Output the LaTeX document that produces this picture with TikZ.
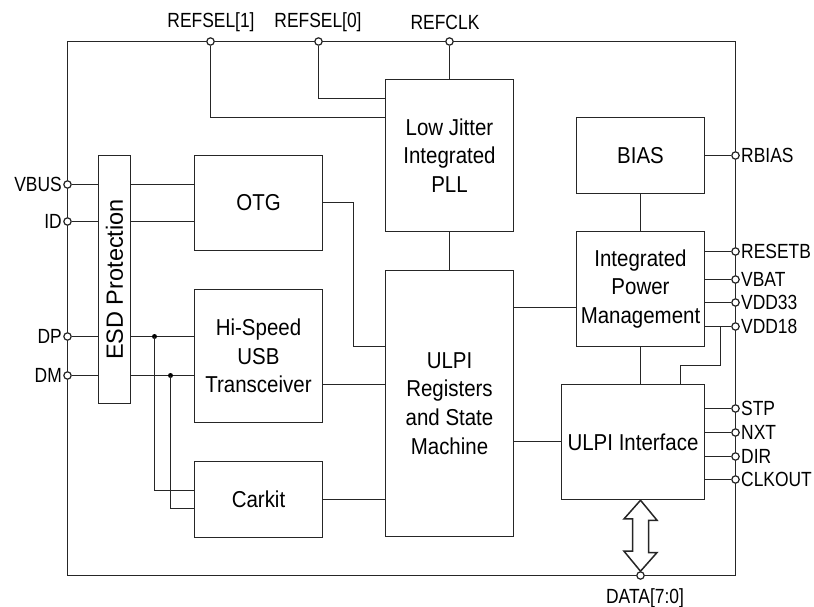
\documentclass[tikz,border=0pt]{standalone}
\usepackage{fontspec}
\newfontfamily\dfont{Liberation Sans}[FakeStretch=0.89]
\newfontfamily\pfont{Liberation Sans}[FakeStretch=0.85]
\newfontfamily\efont{Liberation Sans}
\begin{document}
\begin{tikzpicture}[x=1pt,y=-1pt,
  wire/.style={draw=black!85,line width=1.5pt},
  blk/.style={wire,fill=white,inner sep=0pt,align=center,font=\dfont\fontsize{23}{28.7}\selectfont},
  pin/.style={circle,draw=black!85,line width=1.2pt,fill=white,minimum size=7.4pt,inner sep=0pt},
  plab/.style={inner sep=0pt,font=\pfont\fontsize{20.5}{21}\selectfont},
  dot/.style={circle,fill=black,minimum size=5pt,inner sep=0pt}]
\useasboundingbox (0,0) rectangle (814,607);
% frame
\draw[wire] (67.5,41.5) rectangle (735.5,575.5);
% blocks
\node[blk,minimum width=128pt,minimum height=152pt] (pll) at (449.5,155.5) {Low Jitter\\Integrated\\PLL};
\node[blk,minimum width=128pt,minimum height=266pt] (reg) at (449.5,403.5) {ULPI\\Registers\\and State\\Machine};
\node[blk,minimum width=128pt,minimum height=76pt] (bias) at (640.5,155.5) {BIAS};
\node[blk,minimum width=128pt,minimum height=115pt] (ipm) at (640.5,289) {Integrated\\Power\\Management};
\node[blk,minimum width=143pt,minimum height=115pt] (uif) at (633,442) {ULPI Interface};
\node[blk,minimum width=32pt,minimum height=248pt] (esd) at (114.5,279.5) {};
\node[inner sep=0pt,rotate=90,font=\efont\fontsize{23.5}{24}\selectfont] (esdt) at (esd.center) {ESD Protection};
\node[blk,minimum width=128pt,minimum height=95pt] (otg) at (258.5,203) {OTG};
\node[blk,minimum width=128pt,minimum height=133pt] (hs) at (258.5,356) {Hi-Speed\\USB\\Transceiver};
\node[blk,minimum width=128pt,minimum height=76pt] (car) at (258.5,499.5) {Carkit};
% top pins
\node[pin] (rs1) at (210.5,41.5) {};
\node[pin] (rs0) at (318.5,41.5) {};
\node[pin] (rclk) at (449.5,41.5) {};
\node[plab] (rs1l) at (211,22) {REFSEL[1]};
\node[plab] (rs0l) at (318,22) {REFSEL[0]};
\node[plab] (rclkl) at (445,22) {REFCLK};
\draw[wire] (rclk) -- (pll.north);
\draw[wire] (rs0) |- (pll.west |- 0,98.5);
\draw[wire] (rs1) |- (pll.west |- 0,117.5);
% left pins
\node[pin] (vbus) at (67.5,184.5) {};
\node[pin] (id) at (67.5,221.5) {};
\node[pin] (dp) at (67.5,336.5) {};
\node[pin] (dm) at (67.5,375.5) {};
\node[plab,anchor=east] (vbusl) at (62,184.5) {VBUS};
\node[plab,anchor=east] (idl) at (62,221.5) {ID};
\node[plab,anchor=east] (dpl) at (62,336.5) {DP};
\node[plab,anchor=east] (dml) at (62,375.5) {DM};
\foreach \p in {vbus,id,dp,dm} \draw[wire] (\p) -- (esd.west |- \p);
\draw[wire] (esd.east |- vbus) -- (otg.west |- vbus);
\draw[wire] (esd.east |- id) -- (otg.west |- id);
\draw[wire] (esd.east |- dp) -- (hs.west |- dp);
\draw[wire] (esd.east |- dm) -- (hs.west |- dm);
\node[dot] (j1) at (154.5,336.5) {};
\node[dot] (j2) at (170.5,375.5) {};
\draw[wire] (j1.center) |- (car.west |- 0,490.5);
\draw[wire] (j2.center) |- (car.west |- 0,508.5);
% OTG/HS/Carkit to registers
\draw[wire] (otg.east |- 0,202.5) -- (353.5,202.5) |- (reg.west |- 0,346.5);
\draw[wire] (hs.east |- 0,384.5) -- (reg.west |- 0,384.5);
\draw[wire] (car.east) -- (reg.west |- car.east);
% core links
\draw[wire] (pll.south) -- (reg.north);
\draw[wire] (reg.east |- 0,307.5) -- (ipm.west |- 0,307.5);
\draw[wire] (reg.east |- 0,441.5) -- (uif.west |- 0,441.5);
\draw[wire] (bias.south) -- (ipm.north);
\draw[wire] (ipm.south) -- (ipm.south |- uif.north);
% right pins
\node[pin] (rbias) at (735.5,155.5) {};
\node[pin] (rst) at (735.5,251.5) {};
\node[pin] (vbat) at (735.5,279.5) {};
\node[pin] (v33) at (735.5,302.5) {};
\node[pin] (v18) at (735.5,326.5) {};
\node[pin] (stp) at (735.5,408.5) {};
\node[pin] (nxt) at (735.5,432.5) {};
\node[pin] (dir) at (735.5,456.5) {};
\node[pin] (clko) at (735.5,479.5) {};
\draw[wire] (bias.east) -- (rbias);
\foreach \p in {rst,vbat,v33,v18} \draw[wire] (ipm.east |- \p) -- (\p);
\foreach \p in {stp,nxt,dir,clko} \draw[wire] (uif.east |- \p) -- (\p);
\node[plab,anchor=west] (rbiasl) at (741,155.5) {RBIAS};
\node[plab,anchor=west] (rstl) at (741,251.5) {RESETB};
\node[plab,anchor=west] (vbatl) at (741,279.5) {VBAT};
\node[plab,anchor=west] (v33l) at (741,302.5) {VDD33};
\node[plab,anchor=west] (v18l) at (741,326.5) {VDD18};
\node[plab,anchor=west] (stpl) at (741,408.5) {STP};
\node[plab,anchor=west] (nxtl) at (741,432.5) {NXT};
\node[plab,anchor=west] (dirl) at (741,456.5) {DIR};
\node[plab,anchor=west] (clkol) at (741,479.5) {CLKOUT};
\coordinate (vb) at (720.5,326.5);
\draw[wire] (vb) |- (680.5,365.5) -- (uif.north -| 680.5,0);
% data bus
\node[pin] (data) at (640.5,575.5) {};
\node[plab] (datal) at (645,597.7) {DATA[7:0]};
\draw[wire,fill=white,line join=miter] (uif.south -| data) -- ++(16.5,20) -- ++(-8.5,0) -- ++(0,32.3) -- ++(8.5,0)
  -- (data.north) -- ++(-16.5,-20) -- ++(8.5,0) -- ++(0,-32.3) -- ++(-8.5,0) -- cycle;
\end{tikzpicture}
\end{document}
